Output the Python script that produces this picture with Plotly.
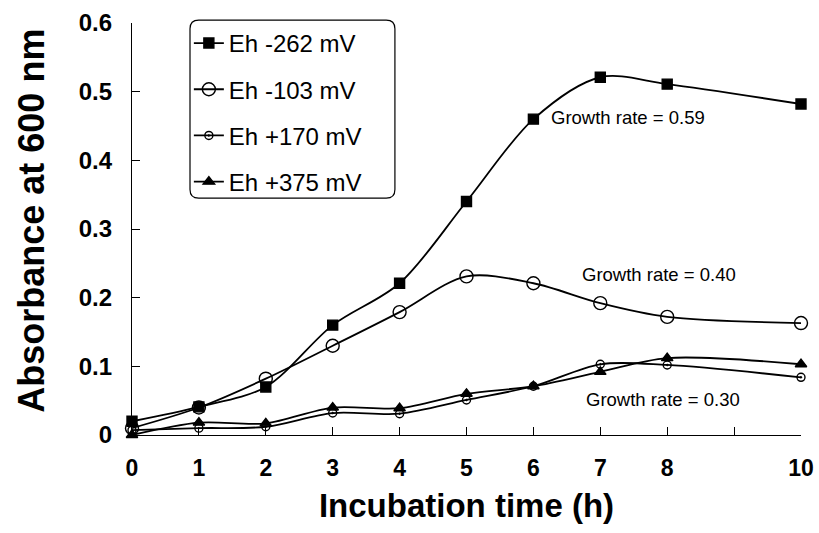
import plotly.graph_objects as go

hours = [0, 1, 2, 3, 4, 5, 6, 7, 8, 10]
eh_m262 = [0.020, 0.041, 0.070, 0.160, 0.221, 0.340, 0.460, 0.521, 0.511, 0.482]
eh_m103 = [0.010, 0.040, 0.082, 0.130, 0.179, 0.231, 0.221, 0.192, 0.172, 0.163]
eh_p170 = [0.007, 0.010, 0.012, 0.032, 0.031, 0.051, 0.071, 0.103, 0.102, 0.084]
eh_p375 = [0.000, 0.018, 0.017, 0.040, 0.039, 0.060, 0.071, 0.092, 0.112, 0.103]

x_tickvals = [0, 1, 2, 3, 4, 5, 6, 7, 8, 9, 10]
x_ticktext = ["0", "1", "2", "3", "4", "5", "6", "7", "8", "", "10"]
y_tickvals = [0, 0.1, 0.2, 0.3, 0.4, 0.5, 0.6]
y_ticktext = ["0", "0.1", "0.2", "0.3", "0.4", "0.5", "0.6"]

series = [
    ("Eh -262 mV", eh_m262, "square", 10),
    ("Eh -103 mV", eh_m103, "circle-open", 13),
    ("Eh +170 mV", eh_p170, "circle-open-dot", 8),
    ("Eh +375 mV", eh_p375, "triangle-up", 10),
]

FONT = "Liberation Sans, Arial, Helvetica"

fig = go.Figure()
for i, (name, vals, sym, sz) in enumerate(series):
    fig.add_trace(go.Scatter(
        x=hours, y=vals, name=name, mode="lines+markers",
        line=dict(color="black", width=1.8, shape="spline", smoothing=0.9),
        marker=dict(symbol=sym, size=sz, color="black",
                    line=dict(color="black", width=1.4)),
        legendgroup=f"g{i}", cliponaxis=False,
    ))

annos = [
    ("Growth rate = 0.59", 7.42, 0.463),
    ("Growth rate = 0.40", 7.87, 0.234),
    ("Growth rate = 0.30", 7.93, 0.052),
]
for text, ax, ay in annos:
    fig.add_annotation(x=ax, y=ay, text=text, showarrow=False,
                       font=dict(size=18.5, color="black", family=FONT))

# y-axis title
fig.add_annotation(x=-0.1495, y=0.52, xref="paper", yref="paper",
                   text="<b>Absorbance at 600 nm</b>", textangle=-90,
                   showarrow=False, xanchor="center", yanchor="middle",
                   font=dict(size=36, color="black", family=FONT))

# rounded legend box
x0, x1 = 0.0867, 0.393
y0, y1 = 0.575, 1.007
rx, ry = 0.013, 0.021
path = (f"M {x0+rx},{y1} L {x1-rx},{y1} Q {x1},{y1} {x1},{y1-ry} "
        f"L {x1},{y0+ry} Q {x1},{y0} {x1-rx},{y0} L {x0+rx},{y0} "
        f"Q {x0},{y0} {x0},{y0+ry} L {x0},{y1-ry} Q {x0},{y1} {x0+rx},{y1} Z")
fig.add_shape(type="path", path=path, xref="paper", yref="paper",
              line=dict(color="black", width=1.2), fillcolor="rgba(0,0,0,0)")

fig.update_layout(
    width=819, height=533,
    margin=dict(l=132, r=18, t=23, b=98),
    paper_bgcolor="white", plot_bgcolor="white",
    font=dict(family=FONT, color="black"),
    showlegend=True,
    legend=dict(x=0.085, y=1.005, xanchor="left", yanchor="top",
                bgcolor="rgba(0,0,0,0)", borderwidth=0,
                font=dict(size=24, color="black"), tracegroupgap=12,
                itemwidth=30),
    xaxis=dict(range=[0, 10], tickmode="array", tickvals=x_tickvals,
               ticktext=x_ticktext, ticks="inside", ticklen=8,
               tickcolor="black", showline=True, linecolor="black",
               linewidth=1.2, showgrid=False, zeroline=False,
               automargin=False, ticklabelstandoff=12,
               tickfont=dict(size=23, color="black", weight="bold"),
               title=dict(text="<b>Incubation time (h)</b>",
                          font=dict(size=33), standoff=14)),
    yaxis=dict(range=[0, 0.6], tickmode="array", tickvals=y_tickvals,
               ticktext=y_ticktext, ticks="inside", ticklen=8,
               tickcolor="black", showline=True, linecolor="black",
               linewidth=1.2, showgrid=False, zeroline=False,
               automargin=False, ticklabelstandoff=14,
               tickfont=dict(size=24, color="black", weight="bold")),
)

fig.write_html("out.html", config={"displayModeBar": False},
               post_script="document.body.style.margin='0px';")
